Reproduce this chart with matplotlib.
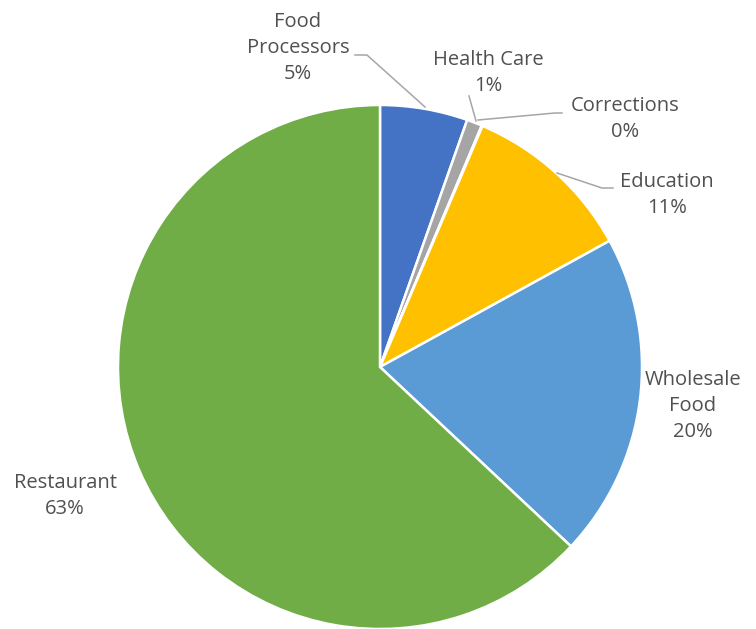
import matplotlib
matplotlib.use("Agg")
import matplotlib.pyplot as plt

# share of customers by market segment (percent)
segments = ["Food\nProcessors", "Health Care", "Corrections", "Education", "Wholesale\nFood", "Restaurant"]
shares = [5.4, 0.95, 0.05, 10.6, 20.0, 63.0]
colors = ["#4472C4", "#A5A5A5", "#ED7D31", "#FFC000", "#5B9BD5", "#70AD47"]

# label anchor points (pixels from top-left) and leader lines
label_pos = [(298, 48), (488, 73), (625, 119), (667, 195), (693, 406), (65, 496)]
leaders = {
    0: [(355, 55), (367, 55), (425, 107)],
    1: [(469, 96), (476, 121)],
    2: [(562, 113), (555, 113), (478, 120)],
    3: [(613, 188), (602, 188), (557, 173)],
}

W, H = 756, 629
fig = plt.figure(figsize=(W / 100, H / 100), dpi=100)
ax = fig.add_axes([0, 0, 1, 1])

ax.pie(shares, colors=colors, startangle=90, counterclock=False,
       center=(380, H - 367), radius=262,
       wedgeprops=dict(edgecolor="white", linewidth=1.8))

# pie() resets the limits, so set pixel-like limits afterwards
ax.set_xlim(0, W)
ax.set_ylim(0, H)
ax.set_aspect("equal")
ax.axis("off")

for i, (name, val) in enumerate(zip(segments, shares)):
    x, y = label_pos[i]
    ax.text(x, H - y, f"{name}\n{round(val):.0f}%", ha="center", va="center",
            fontsize=14.5, family="Open Sans", color="#505050", linespacing=1.38)

for pts in leaders.values():
    xs = [p[0] for p in pts]
    ys = [H - p[1] for p in pts]
    ax.plot(xs, ys, color="#A6A6A6", linewidth=1.1)

fig.savefig("out.png", dpi=100)
